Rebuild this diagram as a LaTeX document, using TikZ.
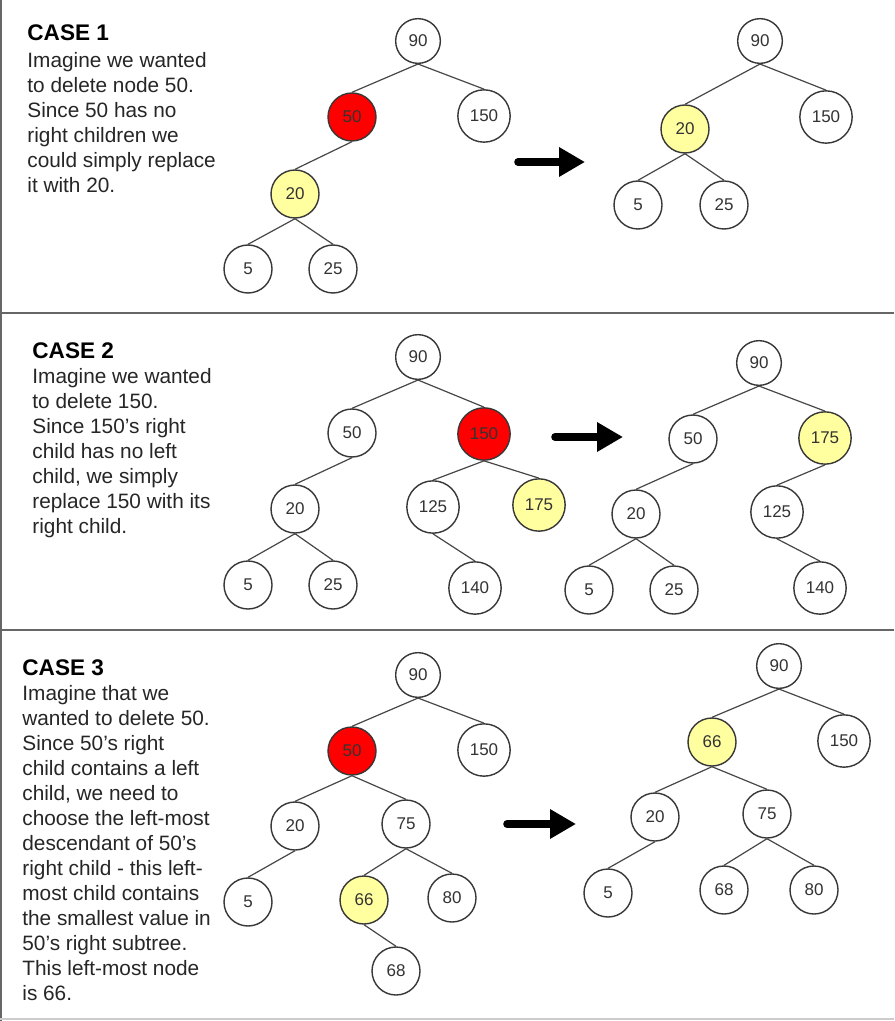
\documentclass[tikz,border=0pt]{standalone}
\usepackage{fontspec}
\setmainfont{Liberation Sans}
\usetikzlibrary{arrows.meta}

\definecolor{delred}{RGB}{255,0,0}
\definecolor{repyellow}{RGB}{255,255,160}
\definecolor{ringgray}{RGB}{55,55,55}

\tikzset{
    key/.style={circle, draw=ringgray, line width=0.7pt, fill=white, minimum size=24pt,
        inner sep=4pt, text=black!80, font=\fontsize{8.5}{10}\selectfont},
    rootkey/.style={key, minimum size=22pt},
    del/.style={key, fill=delred},
    rep/.style={key, fill=repyellow},
    edge/.style={draw=black!72, line width=0.6pt},
    arr/.style={line width=3.8pt, line cap=round, -{Triangle[length=13pt,width=14pt]}},
    casetitle/.style={anchor=base west, inner sep=0pt, font=\fontsize{11.3}{14}\bfseries},
    casebody/.style={anchor=north west, inner sep=0pt, align=left, text=black!85,
        font=\fontsize{10.4}{12.5}\selectfont},
    frame/.style={draw=black!60, line width=1.1pt}
}

\begin{document}
\begin{tikzpicture}[x=0.5pt, y=-0.5pt]

    \useasboundingbox (0,0) rectangle (894,1021);
    \fill[white] (0,0) rectangle (894,1021);

    % Frame lines between the cases
    \draw[frame] (1,0) -- (1,1021);
    \draw[frame] (0,313) -- (894,313);
    \draw[frame] (0,630) -- (894,630);
    \draw[draw=black!20, line width=0.8pt] (0,1019) -- (894,1019);

    % CASE 1: text
    \node[casetitle] (t1) at (27,41) {CASE 1};
    \node[casebody] (b1) at (27,52) {Imagine we wanted\\to delete node 50.\\Since 50 has no\\right children we\\could simply replace\\it with 20.};

    % CASE 1: tree before
    \node[rootkey] (L1n90) at (418,41) {90};
    \node[del] (L1n50) at (352,117) {50};
    \node[key] (L1n150) at (484,116) {150};
    \node[rep] (L1n20) at (295,194) {20};
    \node[key] (L1n5) at (248,269) {5};
    \node[key] (L1n25) at (333,269) {25};

    % CASE 1: tree after
    \node[rootkey] (R1n90) at (760,41) {90};
    \node[key] (R1n150) at (826,117) {150};
    \node[rep] (R1n20) at (685,129) {20};
    \node[key] (R1n5) at (638,205) {5};
    \node[key] (R1n25) at (724,205) {25};

    \coordinate (a1s) at (518,162);
    \coordinate (a1e) at (585,162);
    \draw[arr] (a1s) -- (a1e);

    \foreach \p/\c in {L1n90/L1n50, L1n90/L1n150, L1n50/L1n20, L1n20/L1n5, L1n20/L1n25,
        R1n90/R1n20, R1n90/R1n150, R1n20/R1n5, R1n20/R1n25} {
        \draw[edge] (\p.south) -- (\c.north);
    }

    % CASE 2: text
    \node[casetitle] (t2) at (32,358) {CASE 2};
    \node[casebody] (b2) at (32,368) {Imagine we wanted\\to delete 150.\\Since 150's right\\child has no left\\child, we simply\\replace 150 with its\\right child.};

    % CASE 2: tree before
    \node[rootkey] (L2n90) at (418,357) {90};
    \node[key] (L2n50) at (352,433) {50};
    \node[del] (L2n150) at (484,434) {150};
    \node[key] (L2n20) at (295,509) {20};
    \node[key] (L2n125) at (433,507) {125};
    \node[rep] (L2n175) at (539,505) {175};
    \node[key] (L2n5) at (248,585) {5};
    \node[key] (L2n25) at (333,585) {25};
    \node[key] (L2n140) at (475,588) {140};

    % CASE 2: tree after
    \node[rootkey] (R2n90) at (759,363) {90};
    \node[key] (R2n50) at (693,439) {50};
    \node[rep] (R2n175) at (825,438) {175};
    \node[key] (R2n20) at (636,514) {20};
    \node[key] (R2n125) at (777,512) {125};
    \node[key] (R2n5) at (589,590) {5};
    \node[key] (R2n25) at (674,590) {25};
    \node[key] (R2n140) at (820,588) {140};

    \coordinate (a2s) at (555,437);
    \coordinate (a2e) at (623,437);
    \draw[arr] (a2s) -- (a2e);

    \foreach \p/\c in {L2n90/L2n50, L2n90/L2n150, L2n50/L2n20, L2n20/L2n5, L2n20/L2n25,
        L2n150/L2n125, L2n150/L2n175, L2n125/L2n140,
        R2n90/R2n50, R2n90/R2n175, R2n50/R2n20, R2n20/R2n5, R2n20/R2n25,
        R2n175/R2n125, R2n125/R2n140} {
        \draw[edge] (\p.south) -- (\c.north);
    }

    % CASE 3: text
    \node[casetitle] (t3) at (22,675) {CASE 3};
    \node[casebody] (b3) at (22,685) {Imagine that we\\wanted to delete 50.\\Since 50's right\\child contains a left\\child, we need to\\choose the left-most\\descendant of 50's\\right child - this left-\\most child contains\\the smallest value in\\50's right subtree.\\This left-most node\\is 66.};

    % CASE 3: tree before
    \node[rootkey] (L3n90) at (418,675) {90};
    \node[del] (L3n50) at (352,751) {50};
    \node[key] (L3n150) at (484,750) {150};
    \node[key] (L3n20) at (295,826) {20};
    \node[key] (L3n75) at (406,824) {75};
    \node[key] (L3n5) at (248,902) {5};
    \node[rep] (L3n66) at (364,900) {66};
    \node[key] (L3n80) at (452,898) {80};
    \node[key] (L3n68) at (396,971) {68};

    % CASE 3: tree after
    \node[rootkey] (R3n90) at (779,666) {90};
    \node[rep] (R3n66) at (712,742) {66};
    \node[key] (R3n150) at (844,741) {150};
    \node[key] (R3n20) at (655,817) {20};
    \node[key] (R3n75) at (767,814) {75};
    \node[key] (R3n5) at (608,893) {5};
    \node[key] (R3n68) at (724,890) {68};
    \node[key] (R3n80) at (814,890) {80};

    \coordinate (a3s) at (507,824);
    \coordinate (a3e) at (576,824);
    \draw[arr] (a3s) -- (a3e);

    \foreach \p/\c in {L3n90/L3n50, L3n90/L3n150, L3n50/L3n20, L3n50/L3n75, L3n20/L3n5,
        L3n75/L3n66, L3n75/L3n80, L3n66/L3n68,
        R3n90/R3n66, R3n90/R3n150, R3n66/R3n20, R3n66/R3n75, R3n20/R3n5,
        R3n75/R3n68, R3n75/R3n80} {
        \draw[edge] (\p.south) -- (\c.north);
    }

\end{tikzpicture}
\end{document}
